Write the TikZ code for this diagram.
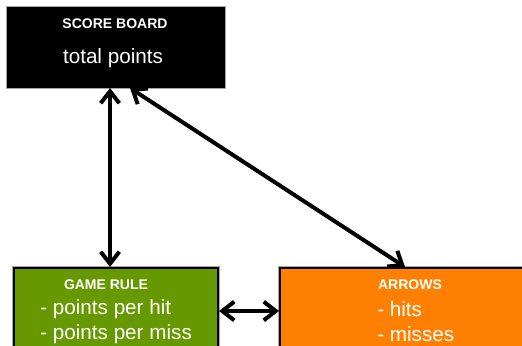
\documentclass[tikz,border=0pt]{standalone}
\usepackage{fontspec}
\setmainfont{Liberation Sans}
\usetikzlibrary{arrows.meta}

\definecolor{rulegreen}{RGB}{102,153,0}
\definecolor{arroworange}{RGB}{255,128,0}

\begin{document}
\begin{tikzpicture}[x=0.75pt,y=-0.75pt,
    box/.style={preaction={draw=gray!70,line width=3.5pt},draw=black,line width=1.5pt,inner sep=0pt},
    title/.style={text=white,font=\fontsize{10.5}{12}\selectfont\bfseries},
    entry/.style={text=white,font=\fontsize{15.5}{18}\selectfont,inner sep=0pt},
    link/.style={line width=3pt,{Straight Barb[length=9pt,width=14pt]}-{Straight Barb[length=9pt,width=14pt]}}]
  \useasboundingbox (0,0) rectangle (522,346);

  % score board
  \node[box,fill=black,minimum width=162pt,minimum height=59.25pt] (board) at (116,47.5) {};
  \node[title] (boardtitle) at (115,24) {SCORE BOARD};
  \node[entry] (boardtotal) at (113,58) {total points};

  % game rule
  \node[box,fill=rulegreen,minimum width=153pt,minimum height=64.5pt] (rule) at (116,311) {};
  \node[title] (ruletitle) at (106,285) {GAME RULE};
  \node[entry,anchor=west] (rulehit) at (40,309) {- points per hit};
  \node[entry,anchor=west] (rulemiss) at (40,334) {- points per miss};

  % arrows
  \node[box,fill=arroworange,minimum width=198.75pt,minimum height=64.5pt] (arrows) at (412.5,311) {};
  \node[title] (arrowstitle) at (410,285) {ARROWS};
  \node[entry,anchor=west] (arrowshit) at (377,309) {- hits};
  \node[entry,anchor=west] (arrowsmiss) at (377,334) {- misses};

  \draw[link] ([xshift=-4.5pt]board.south) -- ([xshift=-4.5pt]board.south |- rule.north);
  \draw[link] ([xshift=10.5pt]board.south) -- ([xshift=-5.6pt]arrows.north);
  \draw[link] (rule.east) -- (rule.east -| arrows.west);
\end{tikzpicture}
\end{document}
